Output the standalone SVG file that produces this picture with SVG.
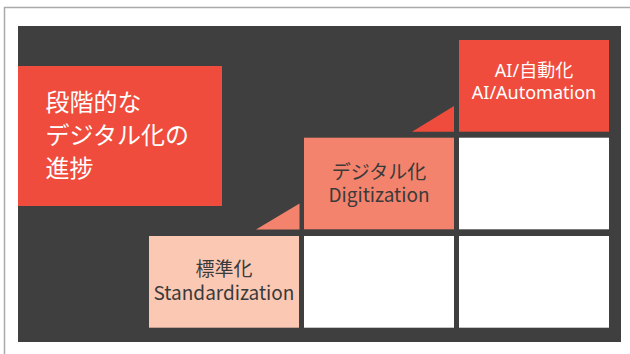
<svg xmlns="http://www.w3.org/2000/svg" width="630" height="354" viewBox="0 0 630 354">
  <style>
    .lbl { font-family: "Noto Sans CJK JP", "Noto Sans", sans-serif; font-size: 19px; fill: #3a3a3a; text-anchor: middle; }
    .ai { font-family: "Noto Sans", "Noto Sans CJK JP", sans-serif; font-size: 18px; fill: #ffffff; text-anchor: middle; }
    .title { font-family: "Noto Sans CJK JP", sans-serif; font-size: 24px; fill: #ffffff; }
    .white { fill: #ffffff; }
  </style>
  <rect x="0" y="0" width="630" height="354" fill="#ffffff"/>
  <path d="M4.5 354 V7.5 H630" fill="none" stroke="#aaaaaa" stroke-width="1.5"/>
  <rect id="panel" x="18" y="26" width="603" height="316" fill="#3f3f3f"/>
  <g id="connectors">
    <polygon points="412,131.7 454,131.7 454,106" fill="#ef4c3d"/>
    <polygon points="256,229.5 299.5,229.5 299.5,203.5" fill="#f4836d"/>
  </g>
  <g id="title">
    <rect x="18" y="66" width="204" height="140" fill="#ef4c3d"/>
    <text class="title" x="45.5" y="111">段階的な</text>
    <text class="title" x="45.5" y="144">デジタル化の</text>
    <text class="title" x="45.5" y="177">進捗</text>
  </g>
  <g id="ai">
    <rect x="459" y="40" width="150" height="91.7" fill="#ef4c3d"/>
    <text class="ai" x="534" y="76.5">AI/自動化</text>
    <text class="ai" x="534" y="99">AI/Automation</text>
  </g>
  <g id="digitization">
    <rect x="304" y="137.7" width="150" height="91.6" fill="#f4836d"/>
    <text class="lbl" x="379" y="179">デジタル化</text>
    <text class="lbl" x="379" y="201.5">Digitization</text>
  </g>
  <g id="standardization">
    <rect x="149" y="236" width="150" height="91.7" fill="#fbc8b4"/>
    <text class="lbl" x="224" y="276">標準化</text>
    <text class="lbl" x="224" y="300">Standardization</text>
  </g>
  <g id="empty-cells">
    <rect class="white" x="459" y="137.7" width="150" height="91.6"/>
    <rect class="white" x="304" y="236" width="150" height="91.7"/>
    <rect class="white" x="459" y="236" width="150" height="91.7"/>
  </g>
</svg>
